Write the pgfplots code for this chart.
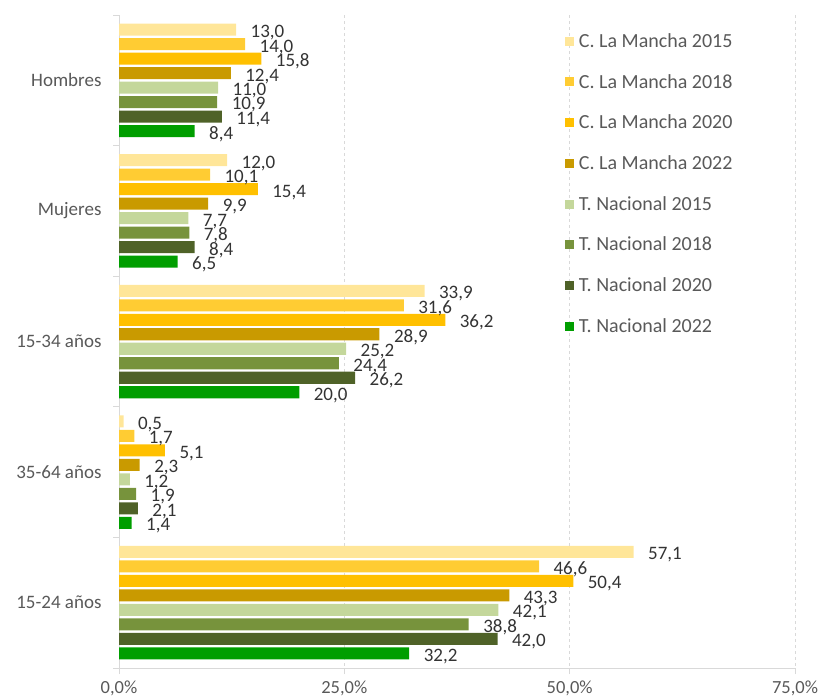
\documentclass[border=0pt]{standalone}
\usepackage{pgfplots}
\pgfplotsset{compat=1.18}
\usepackage{pgfplotstable}
\usepackage{fontspec}
\setmainfont{Carlito}
\definecolor{c1}{HTML}{FFE699}
\definecolor{c2}{HTML}{FFCC33}
\definecolor{c3}{HTML}{FFC000}
\definecolor{c4}{HTML}{C99A00}
\definecolor{c5}{HTML}{C4D79B}
\definecolor{c6}{HTML}{77933C}
\definecolor{c7}{HTML}{4F6228}
\definecolor{c8}{HTML}{009E00}
\definecolor{txt}{HTML}{595959}
\definecolor{lbl}{HTML}{333333}
\definecolor{gridc}{HTML}{D9D9D9}
\pgfplotstableread{
cat s1 s2 s3 s4 s5 s6 s7 s8
0 13.0 14.0 15.8 12.4 11.0 10.9 11.4 8.4
1 12.0 10.1 15.4 9.9 7.7 7.8 8.4 6.5
2 33.9 31.6 36.2 28.9 25.2 24.4 26.2 20.0
3 0.5 1.7 5.1 2.3 1.2 1.9 2.1 1.4
4 57.1 46.6 50.4 43.3 42.1 38.8 42.0 32.2
}\datatable
\begin{document}
\begin{tikzpicture}
\useasboundingbox (0,0) rectangle (822pt,699pt);
\begin{axis}[
  at={(119pt,31pt)}, anchor=south west,
  scale only axis, width=676pt, height=653pt,
  xmin=0, xmax=75, ymin=-0.5, ymax=4.5,
  y dir=reverse,
  clip=false,
  /pgf/number format/assume math mode=true,
  axis x line=bottom, axis y line=left,
  axis line style={-, draw=gridc, line width=0.9pt},
  xtick={0,25,50,75},
  xticklabel={\pgfmathprintnumber[use comma,fixed,fixed zerofill,precision=1]{\tick}\%},
  xticklabel style={font=\fontsize{18.5}{20}\selectfont, text=txt, yshift=-3pt},
  xmajorgrids, grid style={dashed, gridc, line width=0.9pt},
  tick align=outside,
  major tick length=6pt,
  tick style={draw=gridc, line width=0.9pt},
  ytick={-0.5,0.5,...,4.5}, yticklabels={},
  extra y ticks={0,1,2,3,4},
  extra y tick labels={Hombres,Mujeres,15-34 años,35-64 años,15-24 años},
  extra y tick style={major tick length=0pt, yticklabel style={font=\fontsize{19}{21}\selectfont, text=txt, xshift=-14pt}},
  xbar, bar width=0.092,
  nodes near coords={\pgfmathprintnumber[use comma,fixed,fixed zerofill,precision=1]{\pgfplotspointmeta}},
  every node near coord/.append style={anchor=west, xshift=11pt, yshift=-3pt, font=\fontsize{19}{21}\selectfont, text=lbl},
  legend cell align=left,
  legend image code/.code={\fill[#1, draw=none] (0pt,-4.5pt) rectangle (9pt,4.5pt);},
  legend style={draw=none, fill=none, at={(0.655,0.978)}, anchor=north west,
    font=\fontsize{20}{22}\selectfont, text=txt, row sep=21.3pt,
    nodes={inner xsep=5pt}},
]
\addplot[fill=c1, draw=none, bar shift=-0.3885] table[x=s1,y=cat]{\datatable};
\addplot[fill=c2, draw=none, bar shift=-0.2775] table[x=s2,y=cat]{\datatable};
\addplot[fill=c3, draw=none, bar shift=-0.1665] table[x=s3,y=cat]{\datatable};
\addplot[fill=c4, draw=none, bar shift=-0.0555] table[x=s4,y=cat]{\datatable};
\addplot[fill=c5, draw=none, bar shift=0.0555] table[x=s5,y=cat]{\datatable};
\addplot[fill=c6, draw=none, bar shift=0.1665] table[x=s6,y=cat]{\datatable};
\addplot[fill=c7, draw=none, bar shift=0.2775] table[x=s7,y=cat]{\datatable};
\addplot[fill=c8, draw=none, bar shift=0.3885] table[x=s8,y=cat]{\datatable};
\legend{C. La Mancha 2015,C. La Mancha 2018,C. La Mancha 2020,C. La Mancha 2022,T. Nacional 2015,T. Nacional 2018,T. Nacional 2020,T. Nacional 2022}
\end{axis}
\end{tikzpicture}
\end{document}
